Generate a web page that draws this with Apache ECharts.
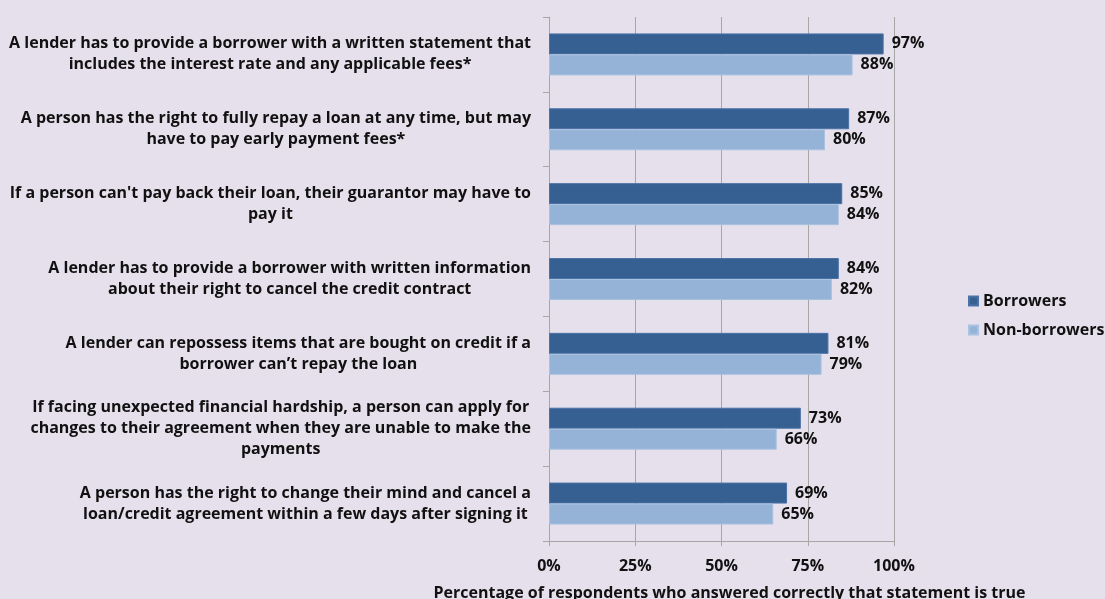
<!DOCTYPE html>
<html>
<head>
<meta charset="utf-8">
<script src="https://cdn.jsdelivr.net/npm/echarts@6/dist/echarts.min.js"></script>
<style>
  html, body { margin: 0; padding: 0; background: #E6E0EC; }
  #chart { width: 1105px; height: 599px; }
</style>
</head>
<body>
<div id="chart"></div>
<script>
// Statements about consumer credit rights (top to bottom)
const categories = [
  "A lender has to provide a borrower with a written statement that\nincludes the interest rate and any applicable fees*",
  "A person has the right to fully repay a loan at any time, but may\nhave to pay early payment fees*",
  "If a person can't pay back their loan, their guarantor may have to\npay it",
  "A lender has to provide a borrower with written information\nabout their right to cancel the credit contract",
  "A lender can repossess items that are bought on credit if a\nborrower can\u2019t repay the loan",
  "If facing unexpected financial hardship, a person can apply for\nchanges to their agreement when they are unable to make the\npayments",
  "A person has the right to change their mind and cancel a\nloan/credit agreement within a few days after signing it"
];

// Share answering correctly (%)
const borrowers = [97, 87, 85, 84, 81, 73, 69];
const nonBorrowers = [88, 80, 84, 82, 79, 66, 65];

const seriesNames = ["Borrowers", "Non-borrowers"];
const axisTitle = "Percentage of respondents who answered correctly that statement is true";

const FONT = "'Open Sans', Lato, sans-serif";
const FS = 16;
const GRID_GRAY = "#A6A6A6";

const chart = echarts.init(document.getElementById("chart"));

const valueLabel = {
  show: true,
  position: "right",
  distance: 8,
  formatter: "{c}%",
  color: "#111",
  fontFamily: FONT,
  fontWeight: "bold",
  fontSize: FS
};

chart.setOption({
  backgroundColor: "#E6E0EC",
  animation: false,
  textStyle: { fontFamily: FONT },
  grid: { left: 549, right: 211, top: 17, bottom: 58, containLabel: false, outerBoundsMode: "none" },
  legend: {
    orient: "vertical",
    left: 963,
    top: 288,
    itemWidth: 9,
    itemHeight: 9,
    itemGap: 13,
    icon: "rect",
    textStyle: { fontFamily: FONT, fontWeight: "bold", fontSize: FS, color: "#111" },
    data: seriesNames
  },
  xAxis: {
    type: "value",
    min: 0,
    max: 100,
    interval: 25,
    name: axisTitle,
    nameLocation: "middle",
    nameGap: 44,
    nameTextStyle: { fontFamily: FONT, fontWeight: "bold", fontSize: FS, color: "#111", padding: [0, 0, 0, 16] },
    axisLine: { show: true, lineStyle: { color: GRID_GRAY } },
    axisTick: { show: true, length: 5, lineStyle: { color: GRID_GRAY } },
    axisLabel: { formatter: "{value}%", margin: 17, fontFamily: FONT, fontWeight: "bold", fontSize: FS, color: "#111" },
    splitLine: { show: true, lineStyle: { color: GRID_GRAY, width: 1 } }
  },
  yAxis: {
    type: "category",
    inverse: true,
    data: categories,
    axisLine: { show: true, lineStyle: { color: GRID_GRAY } },
    axisTick: { show: true, length: 6, inside: false, lineStyle: { color: GRID_GRAY } },
    axisLabel: {
      margin: 18,
      align: "right",
      formatter: v => v.split("\n").map(l => "{c|" + l + "}").join("\n"),
      rich: {
        c: { align: "center", fontFamily: FONT, fontWeight: "bold", fontSize: FS, lineHeight: 21, color: "#111" }
      }
    },
    splitLine: { show: false }
  },
  series: [
    {
      name: seriesNames[0],
      type: "bar",
      data: borrowers,
      barWidth: 21,
      barGap: "0%",
      itemStyle: { color: "#376092", borderColor: "#4A72A6", borderWidth: 1 },
      label: valueLabel
    },
    {
      name: seriesNames[1],
      type: "bar",
      data: nonBorrowers,
      barWidth: 21,
      barGap: "0%",
      itemStyle: { color: "#95B3D7", borderColor: "#A9C2E0", borderWidth: 1 },
      label: valueLabel
    }
  ]
});
</script>
</body>
</html>
